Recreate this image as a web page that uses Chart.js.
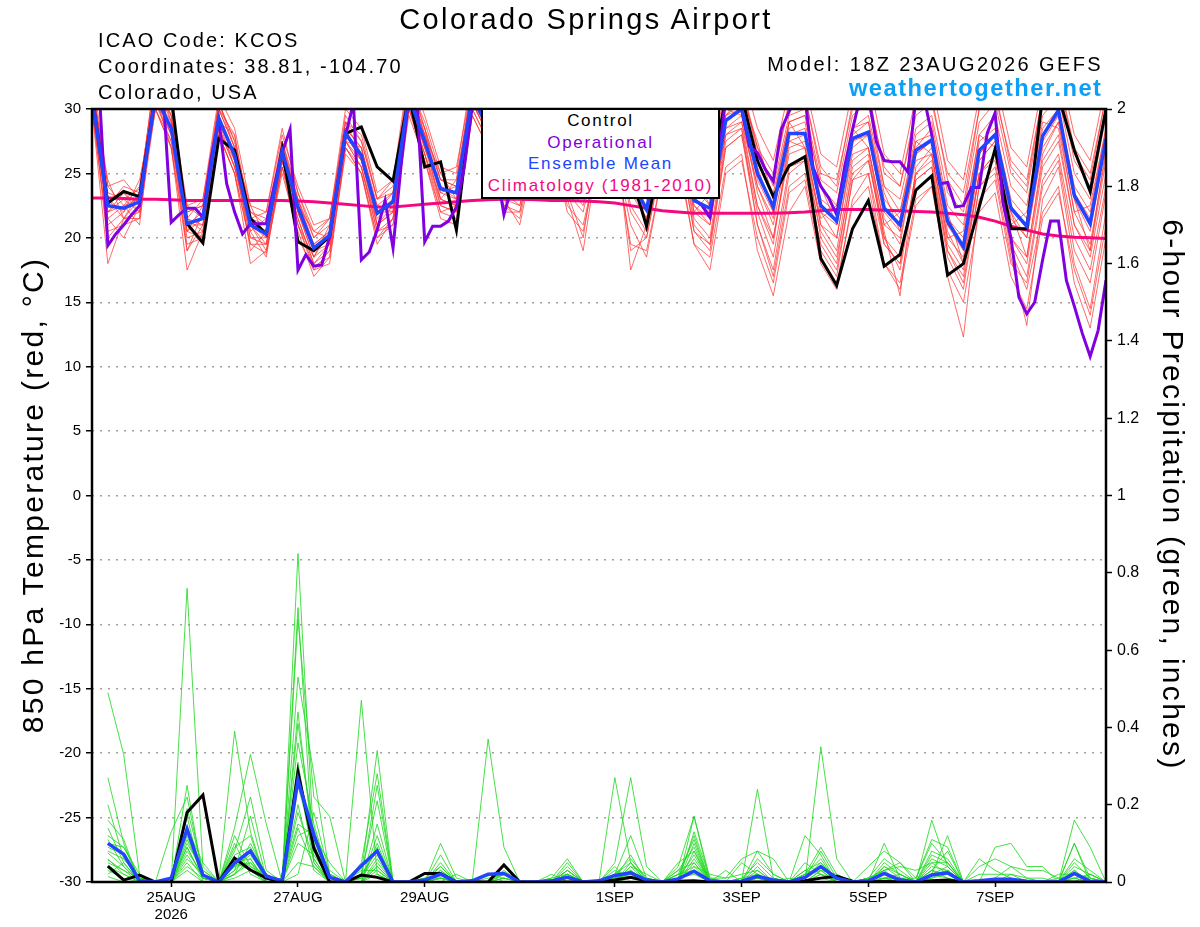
<!DOCTYPE html>
<html>
<head>
<meta charset="utf-8">
<title>Colorado Springs Airport - GEFS 850 hPa temperature and precipitation</title>
<script src="https://cdn.jsdelivr.net/npm/chart.js@4.4.1/dist/chart.umd.min.js"></script>
<style>
  html, body { margin: 0; padding: 0; background: #fff; }
  #wrap { position: relative; width: 1200px; height: 927px; overflow: hidden;
          font-family: "Liberation Sans", Arial, Helvetica, sans-serif; color: #000; }
  #chartBox { position: absolute; left: 0; top: 0; width: 1200px; height: 927px; }
  .txt { position: absolute; line-height: 1; white-space: nowrap; }
  #legendBox { position: absolute; left: 481px; top: 108px; width: 239px; height: 91px;
               box-sizing: border-box; border: 2px solid #000; background: #fff;
               text-align: center; font-size: 17px; line-height: 21.6px; letter-spacing: 1.7px; }
  .axisTitle { position: absolute; width: 640px; height: 30px; font-size: 30px; line-height: 30px;
               text-align: center; white-space: nowrap; letter-spacing: 2.3px; }
</style>
</head>
<body>
<div id="wrap">
  <div id="chartBox"><canvas id="gefsChart"></canvas></div>

  <div class="txt" style="left:0;width:1172px;text-align:center;top:4.5px;font-size:29px;letter-spacing:2.4px;">Colorado Springs Airport</div>
  <div class="txt" style="left:98px;top:30px;font-size:20px;letter-spacing:2.1px;">ICAO Code: KCOS</div>
  <div class="txt" style="left:98px;top:56px;font-size:20px;letter-spacing:2.1px;">Coordinates: 38.81, -104.70</div>
  <div class="txt" style="left:98px;top:82px;font-size:20px;letter-spacing:2.1px;">Colorado, USA</div>
  <div class="txt" style="right:97px;top:54px;font-size:20px;letter-spacing:2.4px;">Model: 18Z 23AUG2026 GEFS</div>
  <div class="txt" style="right:97.5px;top:77px;font-size:23.7px;font-weight:bold;letter-spacing:1.5px;color:#0b9ff5;">weathertogether.net</div>

  <div id="legendBox">
    <div style="color:#000;">Control</div>
    <div style="color:#8000e0;">Operational</div>
    <div style="color:#2244ff;">Ensemble Mean</div>
    <div style="color:#f5087f;">Climatology (1981-2010)</div>
  </div>

  <div class="axisTitle" style="left:-287.4px;top:480px;transform:rotate(-90deg);">850 hPa Temperature (red, °C)</div>
  <div class="axisTitle" style="left:853.4px;top:480px;transform:rotate(90deg);">6-hour Precipitation (green, inches)</div>
</div>

<script>
// --- DATA ---
// time axis: forecast hours from 18Z 23AUG2026, 6-hourly (ensemble) and 3-hourly (operational)
const tickHours = [30, 78, 126, 198, 246, 294, 342];
const tickLabels = ["25AUG", "27AUG", "29AUG", "1SEP", "3SEP", "5SEP", "7SEP"];
const tickYear = "2026";

// 850 hPa temperature (C), 6-hourly, hour 0..384
const controlTemp = [
  31, 22.7, 23.6, 23.2, 31, 31, 21.1, 19.6, 27.7, 26.8, 21.5, 20.3, 26.9, 19.7, 19.0, 20.1,
  28.1, 28.6, 25.5, 24.4, 31, 25.5, 25.9, 20.6, 31, 30, 26, 24.5, 29, 30.5, 26, 24,
  28.5, 29.5, 25, 20.9, 27, 30, 26.5, 24, 31, 31, 26, 23.2, 25.6, 26.3, 18.4, 16.3,
  20.7, 22.9, 17.8, 18.7, 23.7, 24.8, 17.1, 18.0, 22.4, 26.9, 20.7, 20.7, 31, 31, 26.8, 23.6,
  30
];
const meanTemp = [
  31, 22.5, 22.3, 22.8, 31, 28.5, 21.1, 21.5, 29.3, 26.4, 21.0, 20.3, 26.7, 22.4, 19.2, 20.2,
  28.1, 26.4, 21.9, 22.8, 31, 27.5, 23.8, 23.5, 31, 28.5, 24.5, 24, 29, 29.5, 25, 24,
  29, 29, 24.5, 22.2, 28, 29, 22.9, 22.3, 29.1, 30, 25, 22.4, 28.1, 28.1, 22.5, 21.3,
  27.7, 28.2, 22.3, 21.0, 26.8, 27.6, 21.3, 19.3, 26.8, 28.0, 22.3, 20.9, 27.9, 29.9, 23.3, 21.1,
  27.7
];
const climTemp = [
  23.1, 23.1, 23.05, 23.0, 23.0, 22.95, 22.9, 22.9, 22.9, 22.9, 22.9, 22.9, 22.9, 22.85, 22.8, 22.7,
  22.6, 22.5, 22.4, 22.4, 22.5, 22.6, 22.7, 22.8, 22.9, 22.95, 23.0, 23.0, 22.95, 22.9, 22.9, 22.85,
  22.8, 22.7, 22.5, 22.3, 22.1, 22.0, 21.9, 21.9, 21.9, 21.9, 21.9, 21.9, 21.95, 22.0, 22.1, 22.2,
  22.2, 22.2, 22.15, 22.1, 22.05, 22.0, 21.9, 21.8, 21.6, 21.3, 20.9, 20.6, 20.3, 20.15, 20.05, 20.0,
  19.95
];
// operational run, 3-hourly, hour 0..384
const operTemp = [
  31, 30.5, 19.4, 20.3, 21.0, 21.8, 22.5, 27, 31, 31, 21.2, 21.8, 22.3, 22.3, 21.6, 26,
  29.2, 24.2, 22.0, 20.3, 21.1, 21.1, 21.1, 24.0, 26.6, 28.4, 17.5, 18.7, 17.8, 17.9, 20.1, 24.2,
  27.9, 30.5, 18.3, 18.9, 20.6, 22.9, 19.2, 25.5, 31, 31, 19.7, 20.9, 20.9, 21.3, 22.4, 25.5,
  30.2, 31, 28.5, 25.5, 21.8, 24, 27, 29, 31, 31, 28, 25.5, 24, 23.5, 25, 28,
  30.5, 31, 28, 26, 24.5, 24, 24.5, 27, 30, 31, 28, 25, 23, 22.5, 21.6, 25.5,
  31, 31, 30, 27.1, 26.6, 25.3, 24.4, 28.4, 29.8, 31, 31, 25.5, 24.0, 23.1, 21.8, 25.5,
  28.4, 31, 31, 27.5, 26.0, 25.9, 25.9, 25.1, 31, 31, 28.0, 24.2, 24.3, 22.4, 22.5, 23.9,
  23.9, 28.1, 29.7, 22.7, 20.0, 15.4, 14.1, 15.0, 18.3, 21.3, 21.3, 16.7, 14.7, 12.6, 10.8, 12.8,
  16.7
];
// ensemble members, 6-hourly
const memberTemp = [
  [32, 23.5, 23.0, 23.8, 32.5, 30, 22.0, 22.5, 30.5, 27.5, 22.0, 21.0, 27.5, 23.5, 20.0, 21.0,
   29.5, 27.5, 23.0, 24.0, 32.5, 28.5, 24.5, 24.5, 32, 29.5, 25.5, 25.0, 30.5, 30.0, 26.5, 25.0,
   30.0, 30.5, 26.0, 23.5, 29.5, 30.5, 24.5, 23.5, 30.5, 31.5, 27.0, 24.0, 29.5, 30.0, 24.5, 23.5,
   29.5, 30.5, 24.0, 23.0, 28.5, 29.5, 23.5, 22.0, 29.0, 30.5, 25.0, 23.5, 30.5, 32.0, 26.0, 24.0, 30.0],
  [30, 20.5, 21.0, 21.5, 30, 27, 19.5, 20.0, 28.0, 25.0, 19.5, 18.8, 25.5, 21.0, 17.8, 18.5,
   26.5, 25.0, 20.0, 21.0, 29.5, 26.0, 22.0, 21.5, 29.5, 27.0, 22.5, 21.5, 27.5, 28.0, 23.0, 19.0,
   27.0, 27.5, 19.0, 20.0, 26.0, 27.5, 20.5, 19.5, 27.0, 28.0, 22.0, 18.5, 25.5, 26.0, 19.0, 17.0,
   24.5, 25.0, 18.0, 16.5, 23.0, 24.0, 17.0, 12.3, 23.0, 24.5, 18.0, 16.5, 24.0, 26.0, 19.0, 16.5, 23.5],
  [31.5, 24.5, 21.5, 22.0, 31.5, 29.5, 20.5, 22.5, 29.0, 28.0, 20.5, 21.5, 26.0, 22.0, 18.5, 21.0,
   28.5, 27.0, 22.5, 22.0, 31.0, 28.5, 23.0, 24.5, 31.5, 29.0, 23.5, 25.0, 30.0, 29.0, 24.0, 25.5,
   29.5, 28.0, 23.5, 22.5, 28.5, 30.0, 22.0, 23.5, 30.0, 29.5, 24.0, 21.5, 29.0, 27.0, 21.5, 22.5,
   28.5, 27.0, 21.0, 22.0, 27.5, 26.5, 20.0, 20.5, 28.0, 27.0, 21.0, 22.0, 29.0, 28.5, 22.0, 22.5, 28.5],
  [30.5, 19.5, 21.0, 22.5, 30.5, 27.5, 20.0, 20.5, 28.5, 25.5, 20.0, 19.5, 25.5, 21.5, 18.0, 19.5,
   27.5, 25.5, 21.0, 22.0, 30.5, 27.0, 23.5, 23.0, 31.0, 29.0, 25.0, 24.5, 29.5, 30.5, 26.0, 25.0,
   30.5, 30.0, 25.5, 23.0, 29.5, 30.5, 24.0, 23.5, 31.0, 32.0, 26.5, 24.5, 30.5, 31.0, 25.5, 24.0,
   30.5, 31.5, 25.0, 24.0, 30.0, 31.0, 24.5, 22.5, 30.0, 31.5, 25.5, 24.0, 31.0, 32.5, 26.5, 24.5, 31.0],
  [31, 22.0, 22.5, 23.0, 31.5, 28.0, 21.5, 21.0, 29.5, 26.0, 21.5, 20.5, 27.0, 23.0, 19.5, 20.5,
   28.0, 26.0, 21.5, 23.0, 31.5, 27.0, 24.0, 23.0, 30.5, 28.0, 23.0, 22.5, 27.5, 28.0, 22.5, 21.0,
   26.5, 27.0, 19.5, 19.0, 25.0, 26.0, 19.5, 18.5, 25.5, 26.5, 19.0, 15.5, 22.0, 24.0, 18.0, 16.0,
   23.0, 25.0, 19.5, 18.0, 25.0, 26.5, 20.0, 18.5, 26.0, 27.5, 21.5, 20.0, 27.0, 29.0, 22.0, 19.5, 26.5],
  [32.5, 23.0, 23.5, 22.0, 32.0, 29.0, 22.5, 21.5, 30.0, 27.0, 22.5, 20.0, 27.5, 22.5, 20.5, 20.0,
   29.0, 26.5, 22.0, 23.5, 32.0, 28.0, 25.0, 23.0, 32.5, 30.0, 26.0, 24.0, 30.0, 31.0, 27.0, 24.5,
   30.5, 31.0, 27.0, 23.0, 30.0, 31.0, 25.0, 22.5, 30.5, 31.0, 27.5, 23.0, 29.0, 29.5, 24.0, 21.0,
   28.0, 29.0, 23.5, 20.5, 27.0, 28.5, 22.0, 18.0, 26.0, 27.5, 22.0, 18.5, 26.5, 29.0, 23.0, 19.0, 27.0],
  [31, 21.0, 22.0, 24.5, 30.5, 28.5, 19.0, 22.0, 29.0, 26.5, 19.0, 20.5, 26.5, 21.0, 17.5, 19.0,
   27.5, 27.0, 21.0, 22.5, 30.0, 27.5, 22.5, 22.0, 30.5, 28.0, 24.0, 23.5, 28.5, 29.0, 24.5, 23.0,
   28.5, 28.5, 24.0, 21.5, 27.5, 28.5, 22.5, 21.0, 28.5, 29.5, 23.5, 20.0, 27.0, 27.5, 21.0, 19.0,
   26.0, 27.0, 20.0, 17.5, 24.5, 25.5, 18.5, 16.0, 24.0, 25.0, 18.5, 13.2, 23.0, 25.5, 18.0, 14.5, 22.0],
  [30, 18.0, 21.5, 23.5, 31.0, 27.0, 17.5, 20.5, 28.0, 25.0, 18.0, 19.0, 25.0, 20.5, 17.0, 18.5,
   27.0, 25.5, 20.5, 21.5, 30.5, 26.5, 22.0, 22.5, 30.0, 27.5, 22.0, 22.0, 28.0, 29.0, 23.5, 20.0,
   28.0, 28.5, 17.5, 21.0, 27.0, 28.0, 21.5, 20.0, 28.0, 29.0, 22.5, 19.5, 27.5, 28.0, 22.0, 20.0,
   27.0, 28.0, 21.5, 19.5, 26.5, 27.5, 21.0, 19.0, 26.5, 28.0, 22.0, 20.0, 27.5, 29.5, 23.0, 20.5, 27.5],
  [33, 24.0, 24.5, 23.0, 33.0, 30.5, 22.5, 23.0, 31.0, 28.5, 22.5, 22.0, 28.0, 24.0, 21.0, 21.5,
   30.0, 28.5, 23.5, 24.5, 33.0, 29.5, 25.5, 25.0, 33.0, 31.0, 26.5, 26.0, 31.0, 32.0, 27.5, 26.5,
   31.5, 32.0, 27.5, 25.0, 31.0, 32.0, 26.0, 25.0, 32.0, 33.0, 28.5, 26.0, 31.5, 32.0, 26.5, 25.5,
   31.5, 32.5, 26.5, 25.0, 31.0, 32.0, 26.0, 24.5, 31.0, 32.5, 27.0, 25.5, 32.0, 33.5, 28.0, 26.0, 32.0],
  [31.5, 22.0, 23.0, 22.0, 31.0, 28.0, 21.0, 21.0, 29.5, 26.0, 21.0, 19.5, 26.5, 22.0, 19.0, 19.5,
   28.5, 26.0, 22.0, 22.0, 31.0, 27.0, 24.0, 23.5, 31.0, 28.5, 24.5, 24.0, 29.5, 29.5, 25.5, 24.5,
   29.0, 29.0, 24.5, 22.5, 28.0, 28.5, 22.5, 21.5, 28.0, 28.5, 21.0, 17.0, 24.0, 25.0, 19.5, 17.5,
   24.5, 26.0, 20.5, 15.5, 25.5, 27.0, 20.5, 18.0, 25.0, 26.0, 19.0, 16.0, 22.0, 24.0, 16.5, 13.0, 20.0],
  [32, 23.0, 21.5, 21.5, 32.5, 29.5, 21.5, 20.5, 30.5, 27.5, 21.0, 20.0, 27.0, 22.5, 19.5, 20.5,
   28.0, 26.0, 22.5, 23.5, 31.5, 28.0, 24.5, 24.0, 31.5, 29.0, 25.0, 25.5, 30.5, 30.0, 26.0, 25.5,
   30.0, 29.5, 25.0, 23.5, 29.0, 29.5, 23.5, 23.0, 29.5, 30.5, 25.5, 22.0, 28.5, 29.0, 23.0, 22.0,
   28.5, 29.0, 23.0, 21.5, 27.5, 28.0, 21.5, 20.0, 27.5, 28.5, 23.0, 21.5, 28.5, 30.0, 24.0, 22.0, 28.5],
  [30.5, 21.5, 20.0, 22.5, 30.0, 27.5, 20.5, 20.0, 28.5, 25.5, 20.5, 18.5, 26.0, 21.5, 18.0, 19.0,
   27.0, 25.0, 19.5, 21.5, 30.0, 26.5, 23.0, 22.5, 30.5, 28.0, 24.0, 23.0, 28.0, 28.5, 24.0, 23.0,
   28.0, 28.0, 23.5, 21.5, 27.0, 28.0, 22.0, 21.0, 28.5, 29.0, 24.0, 21.0, 27.5, 27.0, 21.0, 20.0,
   26.5, 27.0, 21.0, 20.0, 26.0, 26.5, 19.5, 17.5, 25.0, 26.5, 20.0, 18.0, 25.5, 27.5, 21.0, 18.5, 25.0],
  [31.5, 23.0, 22.0, 23.5, 31.0, 29.0, 21.0, 22.0, 30.0, 27.0, 21.5, 21.0, 27.0, 23.0, 19.0, 20.0,
   28.5, 27.0, 22.0, 23.0, 31.5, 28.0, 23.5, 24.0, 31.0, 29.0, 24.0, 24.5, 29.5, 29.0, 25.0, 24.0,
   29.5, 29.0, 23.5, 22.0, 28.5, 29.0, 23.0, 22.0, 29.5, 30.0, 24.5, 22.0, 28.0, 28.5, 22.0, 21.0,
   27.5, 28.0, 22.0, 20.5, 26.5, 27.5, 21.0, 19.5, 26.5, 28.0, 22.5, 21.0, 28.0, 29.5, 23.5, 21.5, 28.0],
  [30, 22.0, 23.5, 22.5, 30.5, 28.0, 20.5, 21.5, 28.5, 26.0, 20.0, 20.0, 26.0, 22.0, 18.5, 20.5,
   27.5, 26.0, 21.0, 22.0, 30.5, 27.0, 23.0, 22.5, 30.5, 28.5, 23.5, 22.5, 28.5, 29.0, 24.0, 22.5,
   28.0, 28.5, 22.5, 20.5, 27.0, 28.5, 21.0, 19.5, 27.5, 28.5, 22.5, 20.0, 26.5, 27.0, 20.0, 18.0,
   25.5, 26.5, 19.5, 18.0, 25.0, 26.0, 19.0, 17.0, 25.0, 26.5, 20.0, 18.5, 26.0, 28.0, 21.0, 19.0, 26.0],
  [32, 24.0, 22.5, 24.0, 32.0, 29.5, 22.0, 22.5, 30.5, 27.0, 22.0, 21.5, 27.5, 23.0, 20.0, 21.5,
   29.0, 27.5, 23.0, 23.5, 32.0, 28.5, 24.5, 24.0, 32.0, 29.5, 25.5, 24.5, 30.5, 30.5, 26.5, 24.5,
   30.5, 30.0, 25.5, 24.0, 29.5, 30.0, 24.0, 22.5, 29.5, 31.0, 26.0, 23.5, 29.0, 29.5, 24.0, 22.5,
   28.5, 29.5, 24.0, 22.0, 28.0, 29.0, 22.5, 21.0, 28.0, 29.5, 24.0, 22.5, 29.5, 31.0, 25.0, 23.0, 29.5],
  [31, 21.5, 22.5, 21.0, 31.5, 28.5, 21.0, 20.0, 29.0, 25.5, 21.0, 19.0, 26.0, 21.0, 18.5, 19.5,
   27.5, 25.5, 20.5, 21.0, 30.0, 26.5, 22.5, 22.0, 30.0, 27.5, 23.0, 21.0, 27.0, 27.5, 22.0, 20.5,
   26.5, 27.0, 21.0, 18.5, 25.0, 26.5, 19.5, 17.5, 25.0, 26.0, 20.0, 16.5, 23.5, 24.5, 18.5, 16.5,
   22.5, 24.0, 18.0, 16.0, 22.5, 24.0, 17.5, 15.0, 22.0, 23.5, 17.0, 14.5, 21.5, 23.5, 17.5, 14.0, 21.0],
  [32.5, 22.5, 24.0, 23.5, 33.0, 29.0, 21.5, 23.0, 30.0, 28.0, 21.5, 22.0, 28.5, 23.5, 20.5, 21.5,
   29.0, 28.0, 23.0, 24.5, 32.0, 29.0, 25.0, 25.5, 32.0, 30.5, 25.0, 26.0, 30.0, 31.5, 26.0, 26.0,
   30.5, 31.5, 26.5, 24.5, 30.5, 31.5, 25.5, 24.5, 31.0, 32.0, 27.0, 25.0, 30.5, 31.0, 25.0, 24.5,
   30.0, 31.0, 25.5, 24.0, 29.5, 30.5, 25.0, 23.5, 30.0, 31.0, 26.0, 24.5, 31.0, 32.5, 27.0, 25.0, 31.0],
  [30.5, 20.0, 21.5, 23.0, 30.0, 27.0, 19.0, 21.0, 28.0, 25.0, 19.5, 19.5, 25.5, 20.0, 17.5, 18.0,
   27.0, 25.0, 20.0, 21.5, 30.0, 26.0, 21.5, 21.0, 29.5, 27.0, 22.5, 22.0, 27.5, 28.5, 23.5, 22.0,
   27.5, 28.0, 22.0, 20.0, 26.5, 27.5, 20.5, 19.0, 27.0, 28.0, 21.0, 17.5, 25.0, 26.0, 20.5, 18.5,
   25.0, 26.0, 20.0, 18.5, 24.5, 25.5, 19.0, 16.5, 24.0, 25.5, 19.5, 17.0, 24.5, 26.5, 20.0, 17.5, 24.0]
];

// 6-hour precipitation (inches), 6-hourly, hour 6..384
const controlPrecip = [
  0.041, 0.005, 0.018, 0, 0, 0.18, 0.225, 0, 0.062, 0.031, 0.01, 0, 0.285, 0.088, 0, 0,
  0.018, 0.012, 0, 0, 0.022, 0.022, 0, 0, 0, 0.044, 0, 0, 0, 0, 0, 0,
  0.005, 0.012, 0.003, 0, 0.002, 0.003, 0, 0, 0, 0, 0, 0, 0.003, 0.01, 0.015, 0.002,
  0, 0.002, 0, 0, 0.003, 0.005, 0, 0, 0, 0, 0, 0, 0, 0, 0, 0
];
const meanPrecip = [
  0.10, 0.072, 0.003, 0, 0.01, 0.137, 0.018, 0, 0.049, 0.08, 0.015, 0.003, 0.264, 0.122, 0.012, 0,
  0.042, 0.08, 0, 0, 0.005, 0.02, 0, 0.003, 0.02, 0.022, 0, 0, 0.003, 0.012, 0, 0.003,
  0.017, 0.024, 0.005, 0, 0.008, 0.028, 0.003, 0, 0.002, 0.015, 0.005, 0, 0.012, 0.04, 0.01, 0,
  0.003, 0.022, 0.005, 0, 0.018, 0.024, 0, 0.003, 0.007, 0.007, 0.002, 0, 0, 0.022, 0.002, 0
];
const memberPrecip = [
  [0.49, 0.33, 0.02, 0, 0, 0.09, 0.01, 0, 0.05, 0.03, 0, 0, 0.53, 0.28, 0.02, 0,
   0.02, 0.08, 0, 0, 0, 0.02, 0, 0, 0.37, 0.09, 0, 0, 0, 0.01, 0, 0,
   0.02, 0.05, 0.01, 0, 0, 0.17, 0, 0, 0.01, 0.02, 0, 0, 0.02, 0.09, 0.02, 0,
   0, 0.10, 0.01, 0, 0.03, 0.02, 0, 0, 0.09, 0.10, 0.04, 0.04, 0, 0.16, 0.09, 0],
  [0.27, 0.10, 0, 0, 0, 0.76, 0.04, 0, 0.02, 0.05, 0.01, 0, 0.85, 0.10, 0, 0,
   0, 0.03, 0, 0, 0, 0.10, 0.01, 0, 0.01, 0.02, 0, 0, 0.01, 0.06, 0, 0,
   0.27, 0.05, 0, 0, 0.01, 0.12, 0, 0, 0, 0.24, 0.01, 0, 0, 0.35, 0.06, 0,
   0.01, 0.03, 0.05, 0, 0.16, 0.04, 0, 0, 0.01, 0.04, 0.01, 0, 0, 0.10, 0.01, 0],
  [0.20, 0.06, 0.01, 0, 0, 0.25, 0.01, 0, 0.39, 0.13, 0, 0, 0.71, 0.05, 0, 0,
   0.47, 0.02, 0, 0, 0.01, 0.01, 0, 0, 0.02, 0.01, 0, 0, 0, 0.04, 0, 0,
   0.05, 0.27, 0.04, 0, 0, 0.08, 0, 0, 0.05, 0.02, 0, 0, 0.12, 0.07, 0, 0,
   0.04, 0.08, 0.05, 0.01, 0.11, 0.09, 0, 0.06, 0.03, 0.01, 0, 0, 0, 0.02, 0, 0],
  [0.14, 0.05, 0, 0, 0.13, 0.22, 0.02, 0, 0.14, 0.33, 0.15, 0, 0.68, 0.22, 0.17, 0,
   0.02, 0.34, 0, 0, 0, 0.07, 0, 0, 0, 0, 0, 0, 0, 0.03, 0, 0,
   0.02, 0.12, 0.01, 0, 0.04, 0.17, 0.01, 0, 0, 0.08, 0.06, 0, 0.02, 0.04, 0.01, 0,
   0, 0.05, 0.02, 0, 0.02, 0.12, 0, 0, 0, 0, 0, 0, 0, 0.10, 0, 0],
  [0.12, 0.09, 0.02, 0, 0, 0.14, 0.05, 0, 0.08, 0.22, 0.03, 0, 0.44, 0.08, 0.03, 0,
   0.05, 0.28, 0, 0, 0.01, 0.04, 0, 0, 0, 0.02, 0, 0, 0.01, 0.02, 0, 0,
   0.01, 0.07, 0, 0, 0.05, 0.08, 0, 0.03, 0, 0.02, 0, 0, 0.05, 0.02, 0.01, 0,
   0.01, 0.03, 0.04, 0.03, 0.05, 0.05, 0, 0, 0, 0, 0, 0, 0.02, 0.02, 0, 0],
  [0.075, 0.04, 0, 0, 0, 0.10, 0.03, 0, 0.02, 0.10, 0.02, 0, 0.36, 0.15, 0.01, 0,
   0.01, 0.25, 0, 0, 0, 0.02, 0, 0, 0, 0.01, 0, 0, 0, 0.01, 0, 0,
   0, 0.04, 0.02, 0, 0, 0.13, 0.01, 0.01, 0.06, 0.08, 0.02, 0, 0.01, 0.08, 0.01, 0,
   0, 0.04, 0.01, 0.01, 0.10, 0.05, 0, 0, 0.01, 0, 0, 0, 0, 0.02, 0.01, 0],
  [0.057, 0.03, 0.01, 0, 0, 0.08, 0.02, 0, 0.05, 0.06, 0, 0, 0.28, 0.05, 0, 0,
   0, 0.10, 0, 0, 0, 0.01, 0, 0, 0, 0, 0, 0, 0, 0.05, 0, 0,
   0.02, 0.02, 0, 0, 0.02, 0.04, 0.02, 0.01, 0.02, 0.03, 0, 0, 0, 0.03, 0.02, 0,
   0, 0.02, 0.01, 0, 0.02, 0.03, 0, 0, 0, 0, 0, 0, 0.01, 0.01, 0.02, 0],
  [0.014, 0, 0, 0, 0, 0.12, 0.01, 0, 0.12, 0.04, 0.01, 0, 0.20, 0.03, 0, 0,
   0.01, 0.07, 0, 0, 0, 0.03, 0, 0, 0, 0.03, 0, 0, 0, 0.02, 0, 0,
   0.01, 0.03, 0, 0, 0, 0.10, 0, 0, 0, 0.02, 0, 0, 0.01, 0.05, 0, 0,
   0, 0.01, 0, 0, 0.05, 0.02, 0, 0, 0, 0, 0, 0, 0, 0, 0, 0],
  [0.09, 0.07, 0, 0, 0, 0.05, 0, 0, 0.10, 0.02, 0, 0.01, 0.15, 0.12, 0.05, 0,
   0, 0.05, 0, 0, 0, 0, 0.02, 0, 0, 0, 0, 0, 0, 0.03, 0, 0,
   0.03, 0.01, 0, 0, 0.03, 0.05, 0, 0, 0, 0.01, 0, 0.01, 0, 0.02, 0, 0,
   0.01, 0.01, 0.02, 0, 0.03, 0.01, 0, 0.04, 0.06, 0.04, 0.03, 0.03, 0.01, 0, 0.02, 0],
  [0.04, 0.02, 0, 0, 0, 0.17, 0, 0, 0.03, 0.08, 0, 0, 0.10, 0.07, 0.01, 0,
   0.03, 0.03, 0, 0, 0, 0.02, 0, 0, 0, 0, 0, 0, 0.02, 0, 0, 0,
   0, 0.04, 0, 0, 0.01, 0.02, 0, 0, 0, 0.01, 0, 0, 0, 0.01, 0, 0,
   0, 0.02, 0, 0, 0.01, 0.03, 0, 0, 0, 0, 0, 0, 0, 0.03, 0, 0],
  [0.10, 0.09, 0.01, 0, 0, 0.03, 0, 0, 0.06, 0.04, 0.02, 0, 0.05, 0.04, 0, 0,
   0, 0.02, 0, 0, 0, 0.01, 0, 0, 0, 0, 0, 0, 0, 0.02, 0, 0,
   0, 0, 0, 0, 0.02, 0.03, 0, 0, 0, 0.04, 0, 0, 0.01, 0.04, 0, 0,
   0, 0.01, 0.01, 0, 0.06, 0.04, 0, 0, 0, 0, 0, 0, 0, 0.05, 0.01, 0],
  [0.02, 0.05, 0, 0, 0, 0.09, 0.01, 0, 0.04, 0.05, 0, 0, 0.02, 0.18, 0.02, 0,
   0, 0.12, 0, 0, 0, 0, 0, 0, 0, 0, 0, 0, 0, 0.01, 0, 0,
   0.04, 0, 0, 0, 0, 0.06, 0, 0, 0, 0, 0, 0, 0.03, 0.02, 0, 0,
   0, 0.02, 0, 0, 0.03, 0.08, 0, 0, 0, 0, 0, 0, 0, 0, 0, 0],
  [0.03, 0.01, 0, 0, 0, 0.06, 0.02, 0, 0.09, 0.12, 0, 0, 0.31, 0.06, 0, 0,
   0, 0.15, 0, 0, 0, 0.03, 0, 0, 0, 0.01, 0, 0, 0, 0.01, 0, 0,
   0.01, 0.02, 0, 0, 0.01, 0.07, 0, 0, 0, 0.03, 0, 0, 0.02, 0.03, 0, 0,
   0, 0.01, 0.01, 0, 0.04, 0.03, 0, 0, 0, 0.02, 0, 0, 0, 0.01, 0, 0],
  [0.11, 0.04, 0, 0, 0, 0.19, 0.03, 0, 0.03, 0.17, 0.01, 0, 0.25, 0.09, 0.02, 0,
   0.02, 0.21, 0, 0, 0, 0.05, 0, 0, 0.02, 0, 0, 0, 0, 0.03, 0, 0,
   0.02, 0.06, 0.01, 0, 0.02, 0.11, 0, 0, 0.01, 0.05, 0.01, 0, 0.02, 0.06, 0, 0,
   0.01, 0.06, 0.03, 0, 0.08, 0.06, 0, 0.02, 0.02, 0.02, 0.01, 0.01, 0, 0.04, 0.02, 0],
  [0.06, 0.02, 0, 0, 0, 0.04, 0.01, 0, 0.01, 0.03, 0, 0, 0.14, 0.04, 0, 0,
   0, 0.04, 0, 0, 0, 0.01, 0, 0, 0, 0.01, 0, 0, 0, 0, 0, 0,
   0, 0.01, 0, 0, 0.01, 0.03, 0, 0, 0, 0.01, 0, 0, 0, 0.02, 0, 0,
   0, 0.02, 0, 0, 0.02, 0.01, 0, 0, 0, 0, 0, 0, 0, 0.01, 0, 0],
  [0.16, 0.11, 0, 0, 0, 0.11, 0.02, 0, 0.07, 0.09, 0.02, 0, 0.41, 0.11, 0.01, 0,
   0.01, 0.09, 0, 0, 0, 0.04, 0, 0, 0, 0.02, 0, 0, 0, 0.02, 0, 0,
   0, 0.03, 0, 0, 0.03, 0.09, 0, 0, 0, 0.06, 0.02, 0, 0.03, 0.05, 0.01, 0,
   0, 0.04, 0.02, 0, 0.07, 0.05, 0, 0, 0, 0, 0, 0, 0, 0.06, 0.03, 0],
  [0.08, 0.06, 0.01, 0, 0, 0.07, 0.01, 0, 0.04, 0.07, 0.01, 0, 0.18, 0.06, 0, 0,
   0, 0.06, 0, 0, 0, 0.01, 0, 0, 0, 0, 0, 0, 0, 0.01, 0, 0,
   0.01, 0.02, 0, 0, 0, 0.05, 0, 0, 0, 0.01, 0, 0, 0, 0.03, 0, 0,
   0, 0.01, 0, 0, 0.01, 0.02, 0, 0, 0, 0, 0, 0, 0, 0.02, 0, 0],
  [0.05, 0.03, 0, 0, 0, 0.13, 0.01, 0, 0.02, 0.06, 0, 0, 0.12, 0.14, 0, 0,
   0, 0.04, 0, 0, 0, 0.02, 0, 0, 0, 0, 0, 0, 0, 0.02, 0, 0,
   0, 0.05, 0, 0, 0, 0.04, 0, 0, 0, 0.02, 0, 0, 0.01, 0.04, 0, 0,
   0, 0.03, 0, 0, 0.02, 0.04, 0, 0, 0, 0, 0, 0, 0, 0.03, 0, 0]
];

// --- CHART ---
Chart.defaults.font.family = '"Liberation Sans", Arial, Helvetica, sans-serif';
Chart.defaults.color = "#000";

// values -> {x: forecast hour, y}
function toPoints(values, step, start) {
  return values.map((v, i) => ({ x: start + i * step, y: v }));
}

function line(values, step, start, color, width, axis, order) {
  return {
    data: toPoints(values, step, start),
    borderColor: color,
    borderWidth: width,
    pointRadius: 0,
    tension: 0,
    fill: false,
    yAxisID: axis,
    order: order,
    clip: 0,
  };
}

const datasets = [];
memberTemp.forEach((m) => datasets.push(line(m, 6, 0, "rgba(255,50,50,0.8)", 0.9, "y", 7)));
memberPrecip.forEach((m) => datasets.push(line(m, 6, 6, "rgba(30,215,30,0.9)", 0.9, "y1", 6)));
datasets.push(line(climTemp, 6, 0, "#f5087f", 3, "y", 5));
datasets.push(line(controlTemp, 6, 0, "#000000", 3, "y", 4));
datasets.push(line(operTemp, 3, 0, "#8000e0", 3, "y", 3));
datasets.push(line(meanTemp, 6, 0, "#2244ff", 3.5, "y", 2));
datasets.push(line(controlPrecip, 6, 6, "#000000", 3, "y1", 1));
datasets.push(line(meanPrecip, 6, 6, "#2244ff", 3.5, "y1", 0));

// black frame round the plot area
const framePlugin = {
  id: "frame",
  afterDatasetsDraw(chart) {
    const { ctx, chartArea: a } = chart;
    ctx.save();
    ctx.strokeStyle = "#000";
    ctx.lineWidth = 2.5;
    ctx.strokeRect(a.left, a.top, a.right - a.left, a.bottom - a.top);
    ctx.restore();
  },
};

new Chart(document.getElementById("gefsChart"), {
  type: "line",
  data: { datasets },
  plugins: [framePlugin],
  options: {
    responsive: true,
    maintainAspectRatio: false,
    animation: false,
    events: [],
    layout: { padding: { top: 109, left: 0, right: 0, bottom: 0 } },
    plugins: { legend: { display: false }, title: { display: false }, tooltip: { enabled: false } },
    scales: {
      x: {
        type: "linear",
        min: 0,
        max: 384,
        afterBuildTicks: (axis) => {
          axis.ticks = tickHours.map((v) => ({ value: v }));
        },
        afterFit: (s) => { s.height = 45; },
        ticks: {
          autoSkip: false,
          maxRotation: 0,
          padding: 3,
          font: { size: 15, lineHeight: 1.1 },
          callback: (v, i) => (i === 0 ? [tickLabels[0], tickYear] : tickLabels[i]),
        },
        grid: { drawOnChartArea: false, drawTicks: true, tickLength: 5, tickColor: "#000", tickWidth: 1.5 },
        border: { display: false },
      },
      y: {
        position: "left",
        min: -30,
        max: 30,
        afterFit: (s) => { s.width = 92; },
        ticks: { stepSize: 5, padding: 5, font: { size: 15 } },
        grid: {
          color: (c) => (c.tick && (c.tick.value === 30 || c.tick.value === -30) ? "rgba(0,0,0,0)" : "#a0a0a0"),
          lineWidth: 1.5,
          tickLength: 6,
          tickColor: "#000",
          tickWidth: 1.5,
        },
        border: { display: false, dash: [2, 6] },
      },
      y1: {
        position: "right",
        min: 0,
        max: 2,
        afterFit: (s) => { s.width = 94; },
        ticks: {
          stepSize: 0.2,
          padding: 5,
          font: { size: 16 },
          callback: (v) => String(Math.round(v * 10) / 10),
        },
        grid: { drawOnChartArea: false, tickLength: 6, tickColor: "#000", tickWidth: 1.5 },
        border: { display: false },
      },
    },
  },
});
</script>
</body>
</html>
